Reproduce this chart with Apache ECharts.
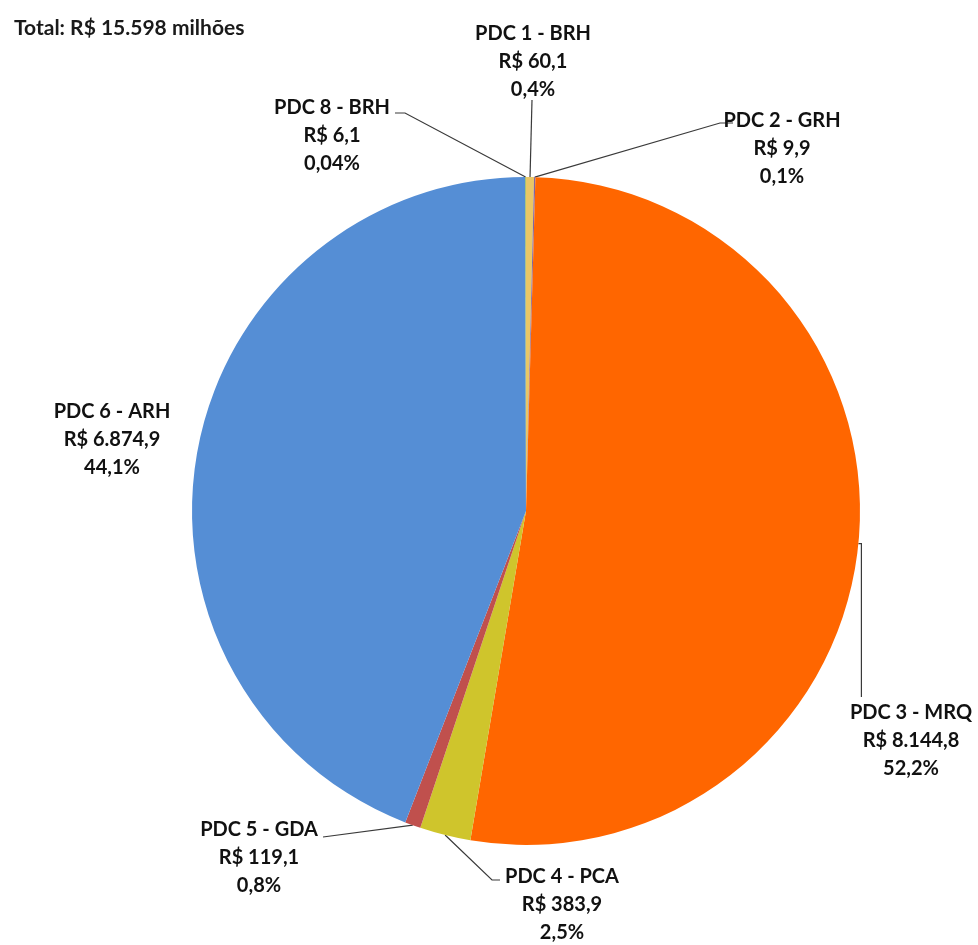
<!DOCTYPE html>
<html>
<head>
<meta charset="utf-8">
<script src="https://cdn.jsdelivr.net/npm/echarts@6/dist/echarts.min.js"></script>
<style>
  html, body { margin: 0; padding: 0; background: #fff; }
  #chart { width: 978px; height: 945px; }
</style>
</head>
<body>
<div id="chart"></div>
<script>
// dados (R$ milhões)
var names = ['PDC 1 - BRH', 'PDC 2 - GRH', 'PDC 3 - MRQ', 'PDC 4 - PCA', 'PDC 5 - GDA', 'PDC 6 - ARH', 'PDC 8 - BRH'];
var values = [60.1, 9.9, 8144.8, 383.9, 119.1, 6874.9, 6.1];
var pctLabels = ['0,4%', '0,1%', '52,2%', '2,5%', '0,8%', '44,1%', '0,04%'];
var colors = ['#E9C766', '#8064A2', '#FF6600', '#CFC52C', '#C0504D', '#558ED5', '#9BBB59'];
var totalText = 'Total: R$ 15.598 milhões';

// posição dos rótulos (centro x, topo y) e fim da linha guia
var labelPos = [
  { x: 533, y: 20, line: [[532, 100]] },
  { x: 782, y: 107, line: [[720, 123], [733, 123]] },
  { x: 911, y: 699, line: 'down' },
  { x: 562, y: 863, line: [[492, 880], [500, 880]] },
  { x: 259, y: 816, line: [[323, 837]] },
  { x: 112, y: 398, line: null },
  { x: 332, y: 94, line: [[405, 113], [395, 113]] }
];

function fmt(v) {
  var parts = v.toFixed(1).split('.');
  return parts[0].replace(/\B(?=(\d{3})+$)/g, '.') + ',' + parts[1];
}

var chart = echarts.init(document.getElementById('chart'));

var option = {
  backgroundColor: '#fff',
  animation: false,
  title: {
    text: totalText,
    left: 9,
    top: 13,
    textStyle: { fontFamily: 'Lato', fontWeight: 'bold', fontSize: 21, color: '#1a1a1a' }
  },
  series: [{
    type: 'pie',
    center: [526, 511],
    radius: [0, 334],
    startAngle: 90,
    clockwise: true,
    avoidLabelOverlap: false,
    data: names.map(function (n, i) {
      var item = { name: n, value: values[i], itemStyle: { color: colors[i] } };
      if (!labelPos[i].line) item.labelLine = { show: false };
      return item;
    }),
    label: {
      show: true,
      position: 'outside',
      fontFamily: 'Lato',
      fontWeight: 'bold',
      fontSize: 20,
      lineHeight: 28,
      color: '#111',
      align: 'center',
      formatter: function (p) {
        return p.name + '\nR$ ' + fmt(p.value) + '\n' + pctLabels[p.dataIndex];
      }
    },
    labelLine: {
      show: true,
      lineStyle: { color: '#3a3a3a', width: 1.2 }
    },
    labelLayout: function (params) {
      var pos = labelPos[params.dataIndex];
      var res = { x: pos.x, y: pos.y, align: 'center', verticalAlign: 'top' };
      var start = params.labelLinePoints ? params.labelLinePoints[0] : null;
      if (start && pos.line) {
        if (pos.line === 'down') {
          res.labelLinePoints = [start, [start[0] + 3, start[1]], [start[0] + 3, 697]];
        } else {
          res.labelLinePoints = [start].concat(pos.line);
        }
      }
      return res;
    },
    itemStyle: { borderWidth: 0 }
  }]
};

chart.setOption(option);
</script>
</body>
</html>
